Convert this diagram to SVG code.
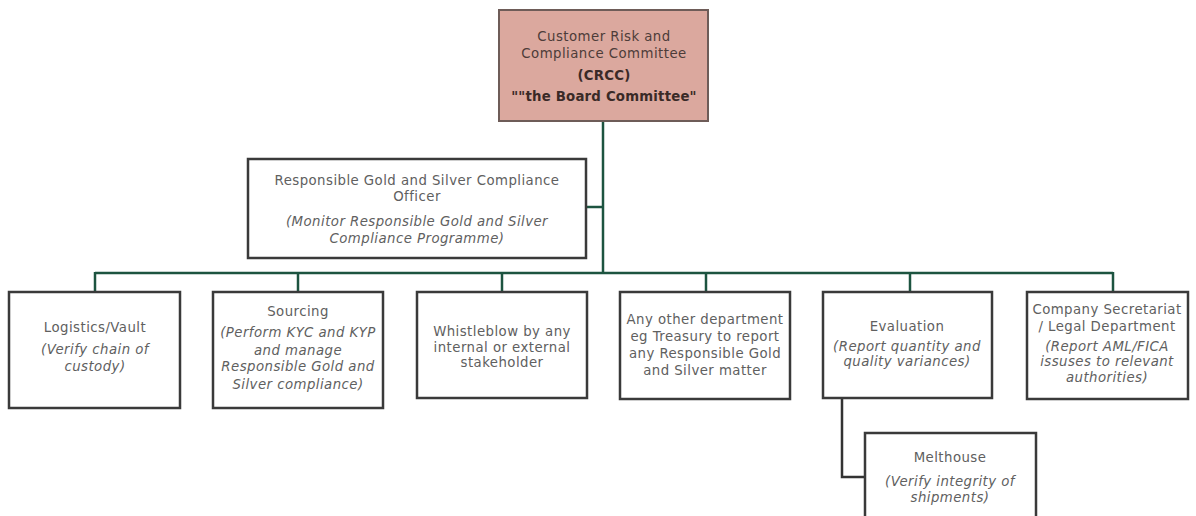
<svg xmlns="http://www.w3.org/2000/svg" width="1196" height="516" viewBox="0 0 1196 516">
  <style>
    .box { fill: #ffffff; stroke: #3a3a3a; stroke-width: 2.5; }
    .board { fill: #dba89e; stroke: #6e5c58; stroke-width: 2; }
    .link { fill: none; stroke: #1d5440; stroke-width: 2.5; }
    .sub { fill: none; stroke: #333333; stroke-width: 2.5; }
    text { font-family: "DejaVu Sans", "Liberation Sans", sans-serif; font-size: 13.3px; letter-spacing: 0.45px; fill: #606060; text-anchor: middle; }
    .it { font-style: italic; }
    .bt { fill: #4d3c39; }
    .bb { font-weight: bold; fill: #3a2a27; letter-spacing: 0.2px; }
  </style>

  <!-- connectors -->
  <g id="connectors">
    <line class="link" x1="603" y1="121" x2="603" y2="274"/>
    <line class="link" x1="586" y1="207" x2="603" y2="207"/>
    <line class="link" x1="95" y1="273" x2="1113" y2="273"/>
    <line class="link" x1="95" y1="272" x2="95" y2="292"/>
    <line class="link" x1="298" y1="272" x2="298" y2="292"/>
    <line class="link" x1="502" y1="272" x2="502" y2="292"/>
    <line class="link" x1="706" y1="272" x2="706" y2="292"/>
    <line class="link" x1="910" y1="272" x2="910" y2="292"/>
    <line class="link" x1="1113" y1="272" x2="1113" y2="292"/>
    <polyline class="sub" points="842,398 842,477 865,477"/>
  </g>

  <!-- board committee -->
  <g id="crcc">
    <rect class="board" x="499" y="10" width="209" height="111"/>
    <text class="bt" x="604" y="41">Customer Risk and</text>
    <text class="bt" x="604" y="58">Compliance Committee</text>
    <text class="bb" x="604" y="80">(CRCC)</text>
    <text class="bb" x="604" y="101">""the Board Committee"</text>
  </g>

  <g id="officer">
    <rect class="box" x="248" y="159" width="338" height="99"/>
    <text x="417" y="185">Responsible Gold and Silver Compliance</text>
    <text x="417" y="201">Officer</text>
    <text class="it" x="417" y="226">(Monitor Responsible Gold and Silver</text>
    <text class="it" x="417" y="243">Compliance Programme)</text>
  </g>

  <g id="logistics">
    <rect class="box" x="9" y="292" width="171" height="116"/>
    <text x="95" y="332">Logistics/Vault</text>
    <text class="it" x="95" y="354">(Verify chain of</text>
    <text class="it" x="95" y="371">custody)</text>
  </g>

  <g id="sourcing">
    <rect class="box" x="213" y="292" width="170" height="116"/>
    <text x="298" y="316">Sourcing</text>
    <text class="it" x="298" y="337">(Perform KYC and KYP</text>
    <text class="it" x="298" y="355">and manage</text>
    <text class="it" x="298" y="371">Responsible Gold and</text>
    <text class="it" x="298" y="389">Silver compliance)</text>
  </g>

  <g id="whistleblow">
    <rect class="box" x="417" y="292" width="170" height="106"/>
    <text x="502" y="336">Whistleblow by any</text>
    <text x="502" y="352">internal or external</text>
    <text x="502" y="367">stakeholder</text>
  </g>

  <g id="other-department">
    <rect class="box" x="620" y="292" width="170" height="107"/>
    <text x="705" y="324">Any other department</text>
    <text x="705" y="341">eg Treasury to report</text>
    <text x="705" y="358">any Responsible Gold</text>
    <text x="705" y="375">and Silver matter</text>
  </g>

  <g id="evaluation">
    <rect class="box" x="823" y="292" width="169" height="106"/>
    <text x="907" y="331">Evaluation</text>
    <text class="it" x="907" y="351">(Report quantity and</text>
    <text class="it" x="907" y="366">quality variances)</text>
  </g>

  <g id="company-secretariat">
    <rect class="box" x="1027" y="292" width="161" height="107"/>
    <text x="1107" y="314">Company Secretariat</text>
    <text x="1107" y="331">/ Legal  Department</text>
    <text class="it" x="1107" y="351">(Report AML/FICA</text>
    <text class="it" x="1107" y="366">issuses to relevant</text>
    <text class="it" x="1107" y="382">authorities)</text>
  </g>

  <g id="melthouse">
    <rect class="box" x="865" y="433" width="171" height="100"/>
    <text x="950" y="462">Melthouse</text>
    <text class="it" x="950" y="486">(Verify integrity of</text>
    <text class="it" x="950" y="502">shipments)</text>
  </g>
</svg>
